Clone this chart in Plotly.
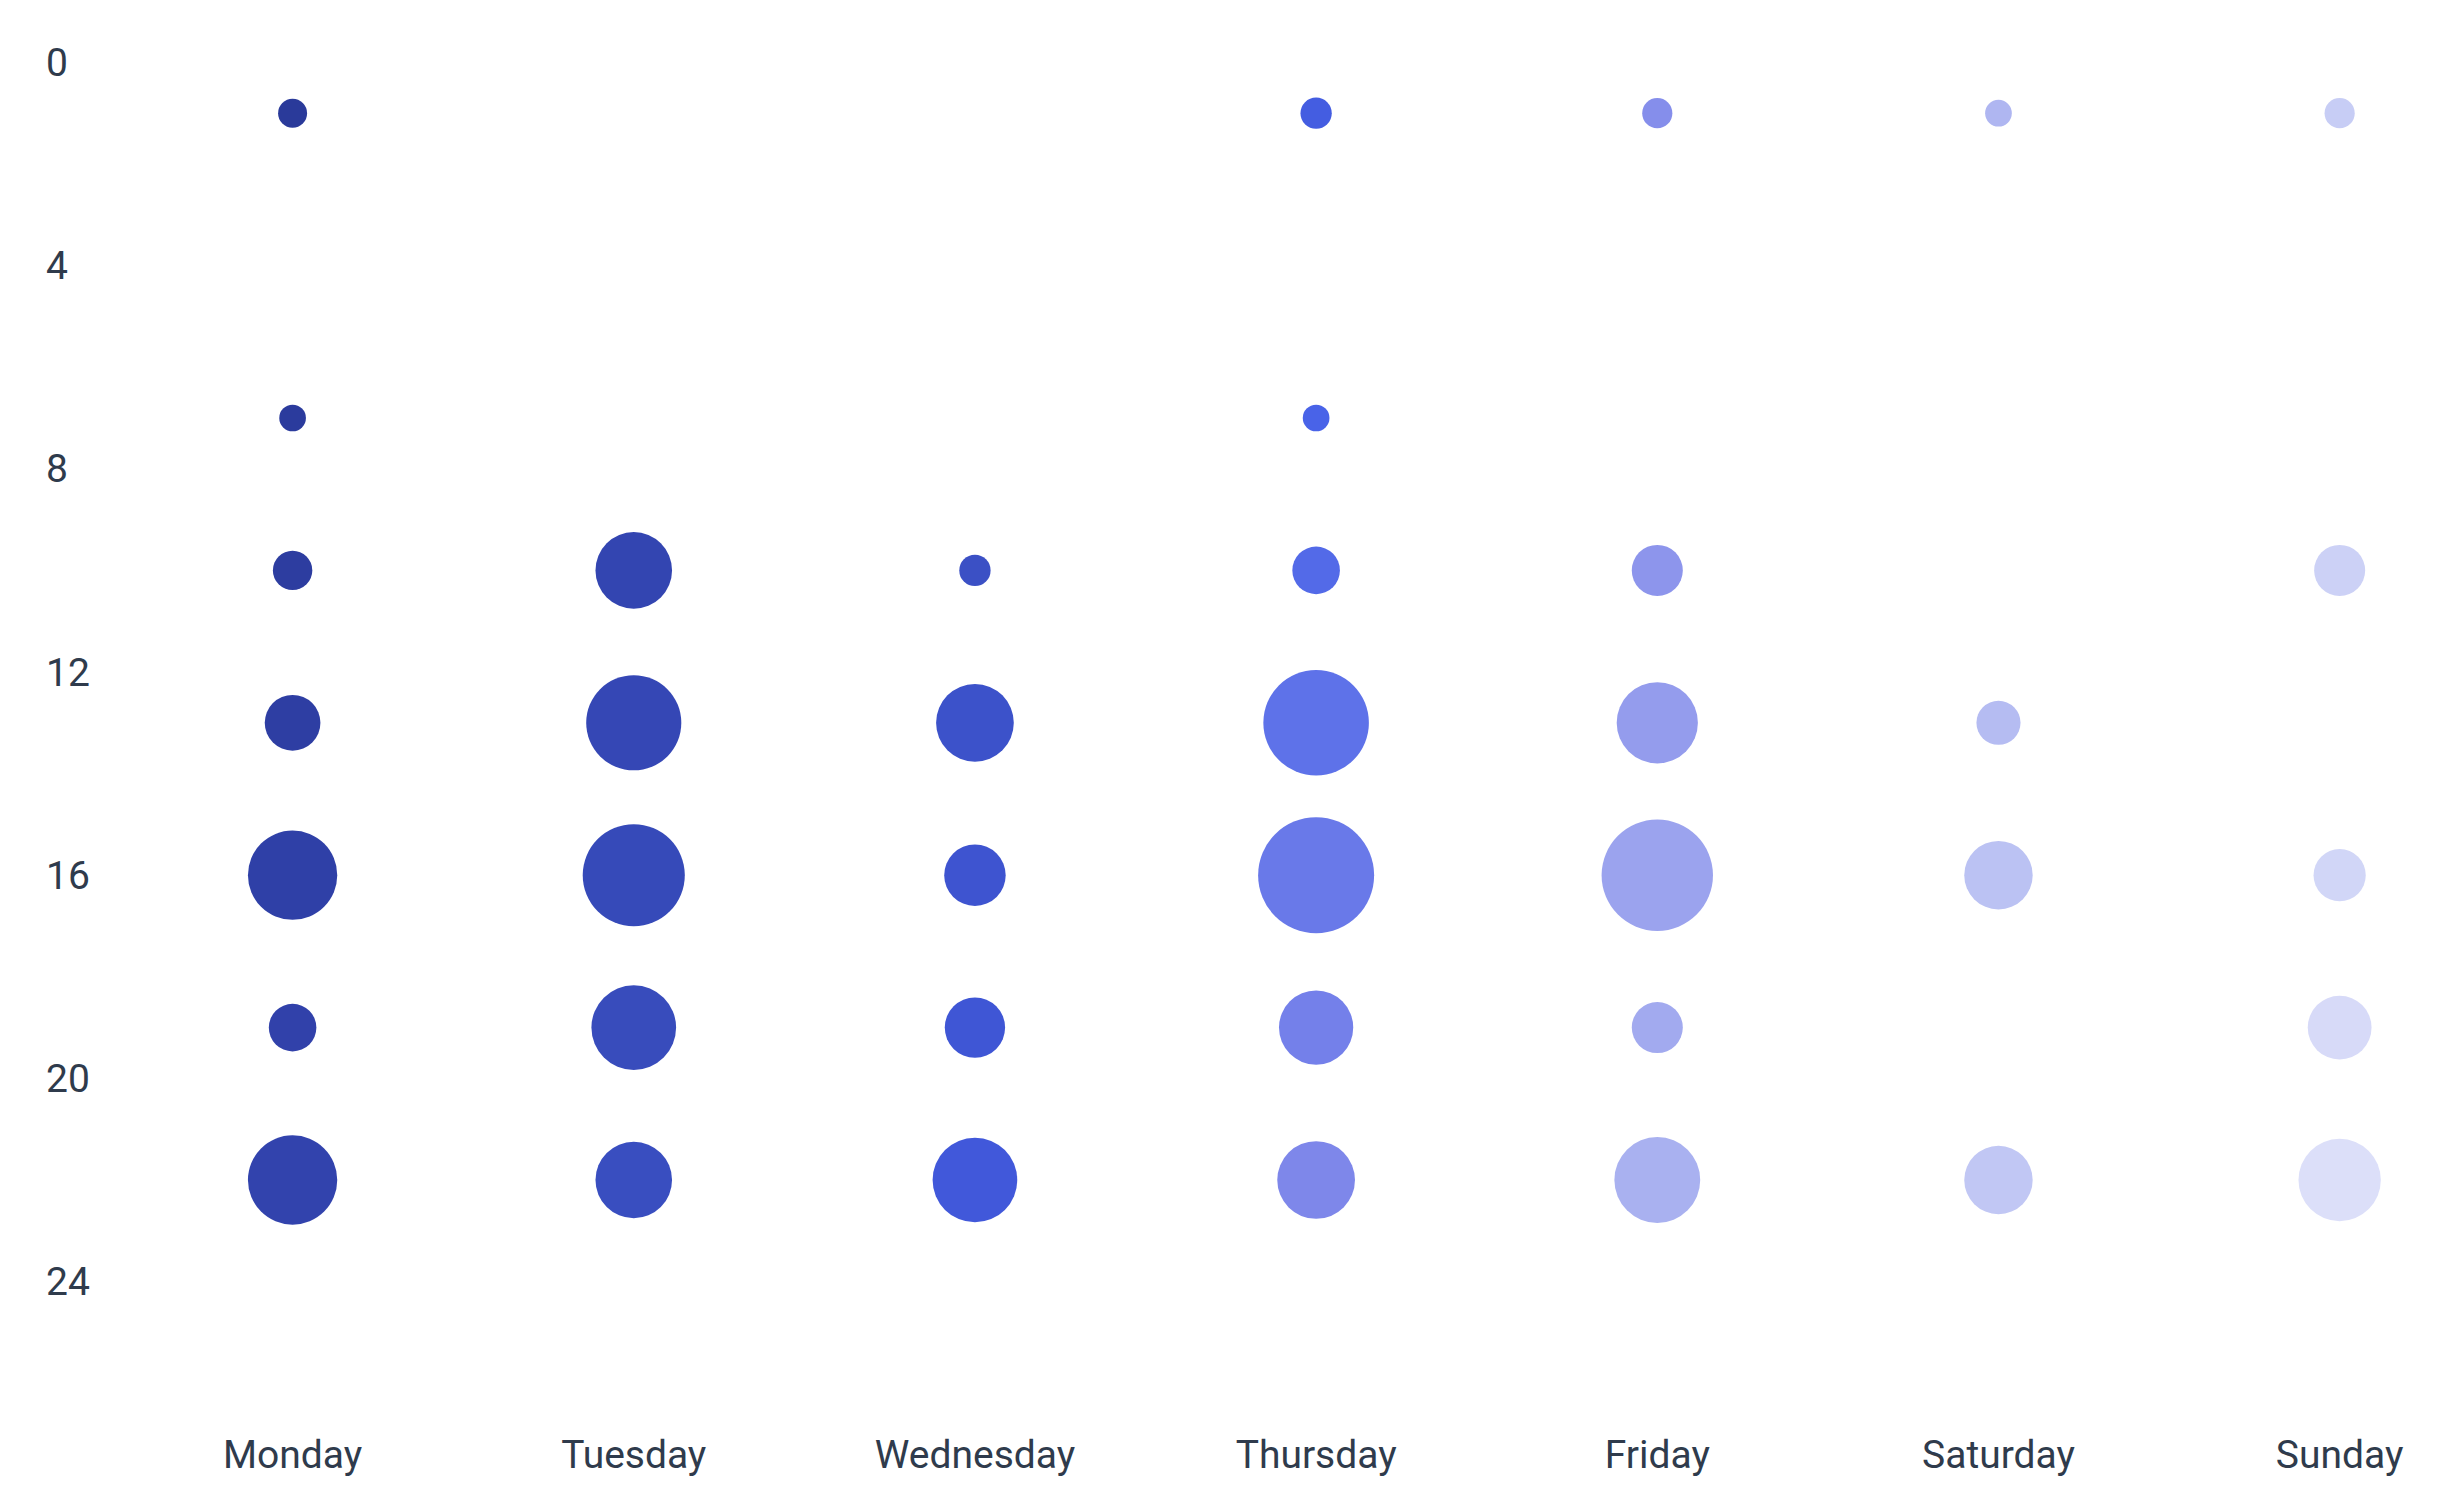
import plotly.graph_objects as go

# ---- data -------------------------------------------------------------
days = ["Monday", "Tuesday", "Wednesday", "Thursday", "Friday", "Saturday", "Sunday"]
hour_ticks = [0, 4, 8, 12, 16, 20, 24]

monday_hours = [1, 7, 10, 13, 16, 19, 22]
monday_vals = [2.5, 2.3, 3.4, 4.8, 7.7, 4.1, 7.7]

tuesday_hours = [10, 13, 16, 19, 22]
tuesday_vals = [6.6, 8.2, 8.8, 7.3, 6.6]

wednesday_hours = [10, 13, 16, 19, 22]
wednesday_vals = [2.7, 6.7, 5.3, 5.2, 7.3]

thursday_hours = [1, 7, 10, 13, 16, 19, 22]
thursday_vals = [2.7, 2.3, 4.1, 9.1, 10.0, 6.4, 6.7]

friday_hours = [1, 10, 13, 16, 19, 22]
friday_vals = [2.6, 4.4, 7.0, 9.6, 4.4, 7.4]

saturday_hours = [1, 13, 16, 22]
saturday_vals = [2.3, 3.8, 5.9, 5.9]

sunday_hours = [1, 10, 16, 19, 22]
sunday_vals = [2.6, 4.4, 4.5, 5.5, 7.1]

hours_by_day = [monday_hours, tuesday_hours, wednesday_hours, thursday_hours,
                friday_hours, saturday_hours, sunday_hours]
vals_by_day = [monday_vals, tuesday_vals, wednesday_vals, thursday_vals,
               friday_vals, saturday_vals, sunday_vals]

# ---- flatten ------------------------------------------------------------
xs, ys, vs = [], [], []
for i, (hrs, vals) in enumerate(zip(hours_by_day, vals_by_day)):
    for h, v in zip(hrs, vals):
        xs.append(i)
        ys.append(h)
        vs.append(v)
order = list(range(len(xs)))  # colour follows point order

colorscale = [
    [0.00, "#2a3a9a"],
    [0.16, "#3243ad"],
    [0.30, "#3a4fc2"],
    [0.43, "#4159dc"],
    [0.47, "#4762e8"],
    [0.60, "#7d86ea"],
    [0.76, "#a8b0f0"],
    [0.88, "#c4caf4"],
    [1.00, "#dcdff9"],
]

fig = go.Figure(
    go.Scatter(
        x=xs,
        y=ys,
        mode="markers",
        marker=dict(
            size=vs,
            sizemode="diameter",
            sizeref=1 / 11.6,
            color=order,
            colorscale=colorscale,
            cmin=0,
            cmax=len(xs) - 1,
            line=dict(width=0),
            opacity=1,
        ),
        hoverinfo="x+y",
        showlegend=False,
    )
)

font = dict(family="Roboto, 'Noto Sans', sans-serif", size=39, color="#2f3b4c")

# plot region: figure x 34..2434 ; the x axis starts 80 px to the right
ML, MR = 34, 9
plot_w = 2443 - ML - MR

fig.update_layout(
    width=2443,
    height=1500,
    margin=dict(l=ML, r=MR, t=29, b=74, autoexpand=False),
    paper_bgcolor="white",
    plot_bgcolor="white",
    font=font,
    xaxis=dict(
        domain=[80 / plot_w, 1],
        range=[-0.5, 6.3],
        tickmode="array",
        tickvals=list(range(len(days))),
        ticktext=days,
        showgrid=False,
        zeroline=False,
        showline=False,
        ticks="",
        automargin=False,
        ticklabelstandoff=-6,
        tickfont=font,
    ),
    yaxis=dict(
        anchor="free",
        position=0,
        range=[27, -0.5],
        tickmode="array",
        tickvals=hour_ticks,
        ticktext=[str(t) for t in hour_ticks],
        ticklabelposition="inside",
        showgrid=False,
        zeroline=False,
        showline=False,
        ticks="",
        automargin=False,
        tickfont=font,
    ),
)

fig.write_html("out.html")
